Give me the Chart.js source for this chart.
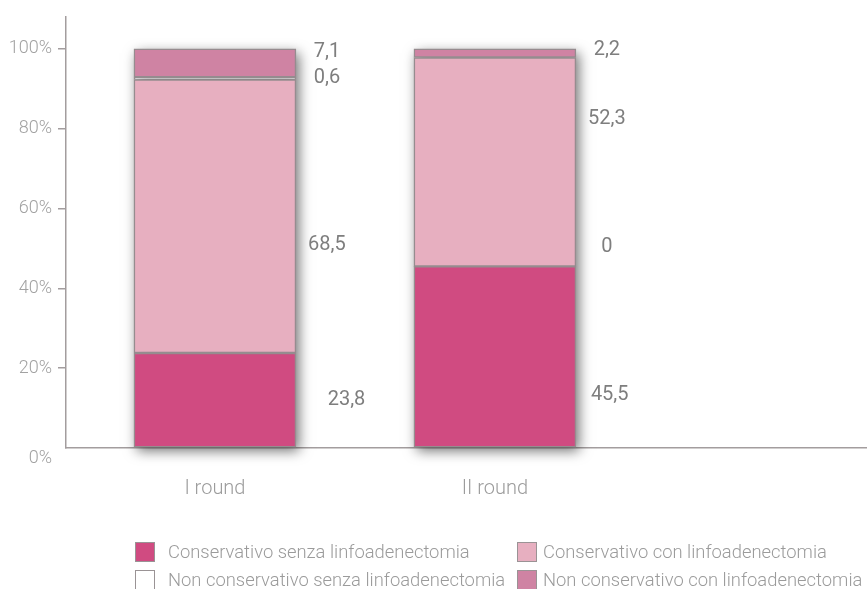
<!DOCTYPE html>
<html>
<head>
<meta charset="utf-8">
<script src="https://cdn.jsdelivr.net/npm/chart.js@4/dist/chart.umd.min.js"></script>
<style>
  html, body { margin: 0; padding: 0; background: #fff; }
  #wrap { position: relative; width: 867px; height: 589px; overflow: hidden; }
  #chart { position: absolute; left: 0; top: 0; }
  .lg-box { position: absolute; width: 18px; height: 18px; border: 1px solid #9a9395; }
  .lg-text { position: absolute; font-family: Roboto, "Noto Sans", sans-serif; font-weight: 300;
             font-size: 18.4px; color: #9b9b9b; white-space: nowrap; line-height: 20px; }
</style>
</head>
<body>
<div id="wrap">
  <canvas id="chart" width="867" height="589"></canvas>
  <div id="legend"></div>
</div>
<script>
// Categories and series (percent of cases per round)
const categories = ['I round', 'II round'];
const seriesNames = [
  'Conservativo senza linfoadenectomia',
  'Conservativo con linfoadenectomia',
  'Non conservativo senza linfoadenectomia',
  'Non conservativo con linfoadenectomia'
];
const conservativoSenza = [23.8, 45.5];
const conservativoCon = [68.5, 52.3];
const nonConservativoSenza = [0.6, 0];
const nonConservativoCon = [7.1, 2.2];
const yTickValues = [0, 20, 40, 60, 80, 100];

// Where each value label sits: vertical level (in %) and horizontal shift from the bar centre (in category units)
const labelLevel = [[12.1, 13.3], [50.8, 82.3], [92.6, 50.3], [99.1, 99.8]];
const labelShift = [[0.47, 0.41], [0.40, 0.40], [0.40, 0.40], [0.40, 0.40]];

const seriesValues = [conservativoSenza, conservativoCon, nonConservativoSenza, nonConservativoCon];
const seriesColors = ['#d04b81', '#e7afc0', '#ffffff', '#cf83a3'];
const edgeColor = '#968c8f';
const axisColor = '#a39d9e';

const fmt = v => String(v).replace('.', ',');

// Soft drop shadow behind each full stack
const stackShadow = {
  id: 'stackShadow',
  beforeDatasetsDraw(chart) {
    const ctx = chart.ctx;
    const metas = chart.data.datasets.map((_, i) => chart.getDatasetMeta(i));
    categories.forEach((_, j) => {
      let top = Infinity, bottom = -Infinity, left = 0, right = 0;
      metas.forEach(m => {
        const el = m.data[j];
        if (!el) return;
        const p = el.getProps(['x', 'y', 'base', 'width'], true);
        top = Math.min(top, p.y, p.base);
        bottom = Math.max(bottom, p.y, p.base);
        left = p.x - p.width / 2;
        right = p.x + p.width / 2;
      });
      const far = 5000;
      ctx.save();
      ctx.shadowColor = 'rgba(0,0,0,0.55)';
      ctx.shadowBlur = 12;
      ctx.shadowOffsetX = far + 3;
      ctx.shadowOffsetY = 4;
      ctx.fillStyle = '#000';
      ctx.fillRect(left - far, top, right - left, bottom - top);
      ctx.restore();
    });
  }
};

// Value labels to the right of the bars
const valueLabels = {
  id: 'valueLabels',
  afterDatasetsDraw(chart) {
    const ctx = chart.ctx;
    const xs = chart.scales.x, ys = chart.scales.y;
    ctx.save();
    ctx.font = '400 20px Roboto, "Noto Sans", sans-serif';
    ctx.fillStyle = '#7e7e7e';
    ctx.textAlign = 'center';
    ctx.textBaseline = 'middle';
    seriesValues.forEach((vals, i) => {
      vals.forEach((v, j) => {
        const x = xs.getPixelForValue(j + labelShift[i][j]);
        const y = ys.getPixelForValue(labelLevel[i][j]);
        ctx.fillText(fmt(v), x, y);
      });
    });
    ctx.restore();
  }
};

const chart = new Chart(document.getElementById('chart'), {
  type: 'bar',
  data: {
    datasets: seriesNames.map((name, i) => ({
      label: name,
      data: seriesValues[i].map((v, j) => ({ x: j, y: v })),
      backgroundColor: seriesColors[i],
      borderColor: edgeColor,
      borderWidth: 1.5,
      borderSkipped: false,
      barThickness: 162
    }))
  },
  options: {
    responsive: false,
    animation: false,
    layout: { padding: { top: 12, right: 0, bottom: 81, left: 0 } },
    plugins: { legend: { display: false }, tooltip: { enabled: false } },
    scales: {
      x: {
        type: 'linear',
        min: -0.532,
        max: 2.329,
        stacked: true,
        offset: false,
        grid: { display: false, drawTicks: false },
        border: { display: true, color: axisColor, width: 1.5 },
        afterBuildTicks: s => { s.ticks = categories.map((_, i) => ({ value: i })); },
        afterFit: s => { s.height = 60; },
        ticks: {
          callback: v => categories[v] ?? '',
          autoSkip: false,
          maxRotation: 0,
          padding: 29,
          color: '#9c9c9c',
          font: { family: 'Roboto, "Noto Sans", sans-serif', size: 20, weight: '300' }
        }
      },
      y: {
        stacked: true,
        min: 0,
        max: 108,
        afterBuildTicks: s => { s.ticks = yTickValues.map(v => ({ value: v })); },
        afterFit: s => { s.width = 66; },
        grid: {
          drawOnChartArea: false,
          drawTicks: true,
          tickLength: 8,
          lineWidth: 1.5,
          color: c => (c.tick && c.tick.value === 0) ? 'rgba(0,0,0,0)' : axisColor
        },
        border: { display: true, color: axisColor, width: 1.5 },
        ticks: {
          callback: v => v === 0 ? ['', '0%'] : v + '%',
          padding: 6,
          color: '#a2a2a2',
          font: { family: 'Roboto, "Noto Sans", sans-serif', size: 18, weight: '300' }
        }
      }
    }
  },
  plugins: [stackShadow, valueLabels]
});

// Two-column legend under the plot
const legend = document.getElementById('legend');
const colBox = [135, 517], colText = [168, 543], rowMid = [552, 580];
seriesNames.forEach((name, i) => {
  const col = i % 2, row = Math.floor(i / 2);
  const box = document.createElement('div');
  box.className = 'lg-box';
  box.style.left = colBox[col] + 'px';
  box.style.top = (rowMid[row] - 10) + 'px';
  box.style.background = seriesColors[i];
  legend.appendChild(box);
  const txt = document.createElement('div');
  txt.className = 'lg-text';
  txt.style.left = colText[col] + 'px';
  txt.style.top = (rowMid[row] - 10) + 'px';
  txt.textContent = name;
  legend.appendChild(txt);
});
</script>
</body>
</html>
